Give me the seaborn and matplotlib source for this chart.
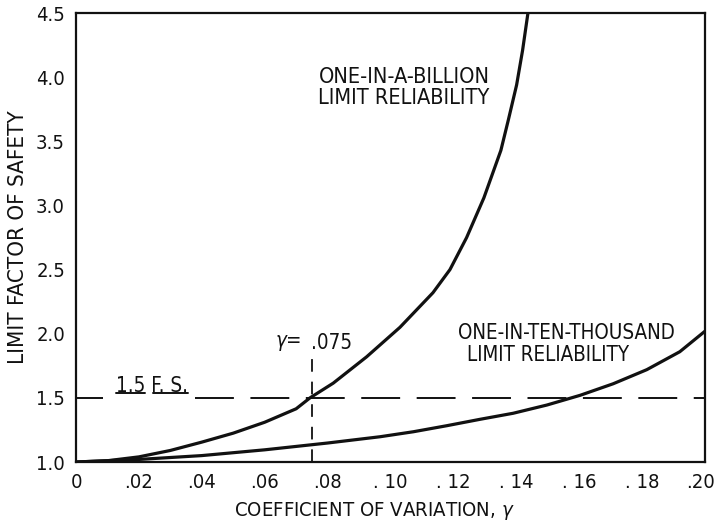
import numpy as np
import pandas as pd
import matplotlib
matplotlib.use("Agg")
import matplotlib.pyplot as plt
import matplotlib.transforms as mtransforms
import seaborn as sns

# Coefficient of variation and limit factor of safety, one-in-a-billion reliability
gamma_billion = [0.0, 0.01, 0.02, 0.03, 0.04, 0.05, 0.06, 0.07, 0.0744, 0.0818,
                 0.0924, 0.103, 0.1135, 0.1189, 0.1242, 0.1297, 0.1351, 0.1375,
                 0.1401, 0.1420, 0.1437]
fs_billion = [1.0, 1.01, 1.04, 1.09, 1.155, 1.225, 1.31, 1.415, 1.5, 1.615,
              1.82, 2.05, 2.32, 2.50, 2.75, 3.06, 3.43, 3.67,
              3.94, 4.21, 4.5]

# One-in-ten-thousand reliability
gamma_tenk = [0.0, 0.02, 0.04, 0.06, 0.08, 0.0967, 0.1073, 0.1179, 0.1285, 0.139,
              0.1497, 0.1603, 0.1708, 0.1815, 0.192, 0.20]
fs_tenk = [1.0, 1.02, 1.05, 1.095, 1.148, 1.197, 1.236, 1.283, 1.333, 1.38,
           1.444, 1.52, 1.61, 1.72, 1.86, 2.02]

# Reference levels
fs_ref = 1.5
gamma_ref = 0.075

x_ticks = [0, 0.02, 0.04, 0.06, 0.08, 0.10, 0.12, 0.14, 0.16, 0.18, 0.20]
x_tick_labels = ["0", ".02", ".04", ".06", ".08", ". 10", ". 12", ". 14", ". 16", ". 18", ".20"]
y_ticks = [1.0, 1.5, 2.0, 2.5, 3.0, 3.5, 4.0, 4.5]
y_tick_labels = ["1.0", "1.5", "2.0", "2.5", "3.0", "3.5", "4.0", "4.5"]

sns.set_style("white")
plt.rcParams["font.family"] = ["DejaVu Sans"]
plt.rcParams["font.stretch"] = "condensed"
plt.rcParams["mathtext.fontset"] = "dejavusans"

fig = plt.figure(figsize=(7.15, 5.25), dpi=100)
ax = fig.add_axes([0.1063, 0.12, 0.8797, 0.855])

df_b = pd.DataFrame({"gamma": gamma_billion, "fs": fs_billion})
df_t = pd.DataFrame({"gamma": gamma_tenk, "fs": fs_tenk})
ink = "#111111"
sns.lineplot(data=df_b, x="gamma", y="fs", ax=ax, color=ink, lw=2.3, sort=False)
sns.lineplot(data=df_t, x="gamma", y="fs", ax=ax, color=ink, lw=2.3, sort=False)

# 1.5 factor-of-safety line (broken around its label) and gamma = .075 marker
ax.plot([0.0, 0.0087], [fs_ref, fs_ref], color=ink, lw=1.4, solid_capstyle="butt")
ax.plot([0.0378, 0.20], [fs_ref, fs_ref], color=ink, lw=1.4,
        dashes=(20, 8.5), dash_capstyle="butt")
ax.plot([gamma_ref, gamma_ref], [1.0, 1.82], color=ink, lw=1.3, dashes=(7, 5.5))

ax.set_xlim(0, 0.20)
ax.set_ylim(1.0, 4.5)
ax.set_xticks(x_ticks)
ax.set_xticklabels(x_tick_labels)
ax.set_yticks(y_ticks)
ax.set_yticklabels(y_tick_labels)
ax.tick_params(axis="both", direction="in", length=17, width=1.3, color=ink,
               labelsize=14.5, labelcolor=ink)
ax.tick_params(axis="x", pad=8)
ax.tick_params(axis="y", pad=8)
last = ax.get_xticklabels()[-1]
last.set_transform(last.get_transform() +
                   mtransforms.ScaledTranslation(-3.5 / 72, 0, fig.dpi_scale_trans))
for s in ax.spines.values():
    s.set_color(ink)
    s.set_linewidth(1.6)

ax.set_xlabel(r"COEFFICIENT OF VARIATION, $\gamma$", fontsize=14.6, color=ink, labelpad=4)
ax.xaxis.set_label_coords(0.474, -0.085)
ax.set_ylabel("LIMIT FACTOR OF SAFETY", fontsize=16, color=ink, labelpad=6)

tk = dict(fontsize=14.8, color=ink, va="center", ha="left")
tb = dict(tk, fontsize=15.6)
ax.text(0.0772, 4.0, "ONE-IN-A-BILLION", **tb)
ax.text(0.0769, 3.835, "LIMIT RELIABILITY", **tb)
ax.text(0.1215, 2.005, "ONE-IN-TEN-THOUSAND", **tk)
ax.text(0.1243, 1.837, "LIMIT RELIABILITY", **tk)
ax.text(0.0632, 1.93, r"$\gamma$=", fontsize=14.8, color=ink, va="center", ha="left")
ax.text(0.0748, 1.93, ".075", **tk)
ax.text(0.0128, 1.59, "1.5 F. S.", **tk)
# underlines beneath the F.S. label
ax.plot([0.0127, 0.0219], [1.54, 1.54], color=ink, lw=1.4)
ax.plot([0.0245, 0.0356], [1.54, 1.54], color=ink, lw=1.4)

fig.savefig("out.png", dpi=100)
